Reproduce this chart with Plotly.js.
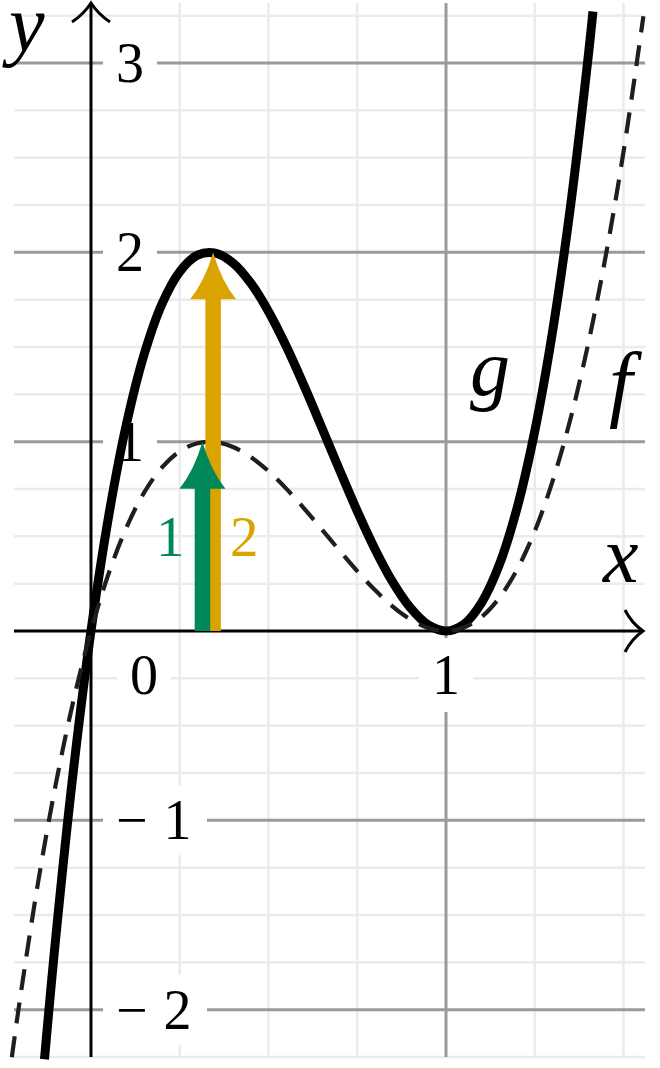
<!DOCTYPE html>
<html><head><meta charset="utf-8">
<script src="https://cdn.plot.ly/plotly-3.0.1.min.js"></script>
<style>html,body{margin:0;padding:0;background:#fff;}#chart{width:660px;height:1068px;}</style>
</head><body><div id="chart"></div>
<script>
// ---- data ----
const fX = [-0.223,-0.2,-0.15,-0.1,-0.05,0,0.05,0.1,0.15,0.2,0.25,0.3,0.35,0.4,0.45,0.5,0.55,0.6,0.65,0.7,0.75,0.8,0.85,0.9,0.95,1.0,1.05,1.1,1.15,1.2,1.25,1.3,1.35,1.4,1.45,1.5,1.556];
const fY = [-2.251,-1.944,-1.339,-0.817,-0.372,0,0.305,0.547,0.732,0.864,0.949,0.992,0.998,0.972,0.919,0.844,0.752,0.648,0.537,0.425,0.316,0.216,0.129,0.061,0.016,0,0.018,0.074,0.175,0.324,0.527,0.790,1.116,1.512,1.982,2.531,3.247];
const gX = [-0.131,-0.1,-0.05,0,0.05,0.1,0.15,0.2,0.25,0.3,0.35,0.4,0.45,0.5,0.55,0.6,0.65,0.7,0.75,0.8,0.85,0.9,0.95,1.0,1.05,1.1,1.15,1.2,1.25,1.3,1.35,1.4,1.414];
const gY = [-2.262,-1.634,-0.744,0,0.609,1.094,1.463,1.728,1.898,1.985,1.996,1.944,1.838,1.688,1.504,1.296,1.075,0.851,0.633,0.432,0.258,0.122,0.032,0,0.035,0.149,0.349,0.648,1.055,1.580,2.233,3.024,3.272];

const arrowX = [0.344, 0.314];     // gold, green
const arrowTop = [2, 1];
const arrowLabels = ['2', '1'];
const arrowLabelY = [0.5, 0.5];

const yTickVals = [-2, -1, 1, 2, 3];
const yTickText = ['\u2212\u2009\u200a2', '\u2212\u2009\u200a1', '1', '2', '3'];
const xTickVals = [0, 1];
const xTickText = ['0', '1'];
const minorX = [0.25, 0.5, 0.75, 1.25, 1.5];
const majorX = [1];
const minorY = [-2.25, -1.75, -1.5, -1.25, -0.75, -0.5, -0.25, 0.25, 0.5, 0.75, 1.25, 1.5, 1.75, 2.25, 2.5, 2.75, 3.25];
const majorY = [-2, -1, 1, 2, 3];

// ---- layout / style ----
const W = 660, H = 1068;
const xRange = [-0.2563, 1.6028], yRange = [-2.3082, 3.3328];
const dx = (xRange[1] - xRange[0]) / W, dy = (yRange[1] - yRange[0]) / H;
const X = px => xRange[0] + px * dx;
const Y = py => yRange[1] - py * dy;
const GOLD = '#dba300', GREEN = '#00885a';
const arrowColors = [GOLD, GREEN];
const gridX0 = X(14), gridX1 = X(645), gridY0 = -2.25, gridYTop = Y(3);
const FONT = 'Liberation Serif, Times New Roman, serif';

const shapes = [];
function line(x0, y0, x1, y1, color, width, layer) {
  shapes.push({type: 'line', xref: 'x', yref: 'y', x0, y0, x1, y1, layer: layer || 'below', line: {color, width}});
}
minorY.forEach(v => line(gridX0, v, gridX1, v, '#ebebeb', 2.5));
minorX.forEach(v => line(v, gridY0, v, gridYTop, '#ebebeb', 2.5));
majorY.forEach(v => line(gridX0, v, gridX1, v, '#9a9a9a', 3));
majorX.forEach(v => line(v, gridY0, v, gridYTop, '#9a9a9a', 3));

function whiteBox(cx, cy, hwPx, hhPx) {
  shapes.push({type: 'rect', xref: 'x', yref: 'y', layer: 'below',
    x0: cx - hwPx * dx, x1: cx + hwPx * dx, y0: cy - hhPx * dy, y1: cy + hhPx * dy,
    fillcolor: '#ffffff', line: {width: 0}});
}
// label boxes
const yLabDx = 23; // px right of y-axis (left edge of label)
yTickVals.forEach((v, i) => {
  const wide = yTickText[i].length > 1;
  whiteBox(X(91 + (wide ? 64 : 39)), v, wide ? 52 : 27, 35);
});
const xLabDx = [53, 0], xLabDy = 44;
xTickVals.forEach((v, i) => whiteBox(v + xLabDx[i] * dx, -xLabDy * dy, 27, 37));

// axes
line(0, gridY0, 0, Y(4), '#000', 3);
line(gridX0, 0, X(642), 0, '#000', 3);
shapes.push({type: 'path', xref: 'x', yref: 'y', layer: 'below', line: {color: '#000', width: 3},
  path: `M${X(72)},${Y(22)} Q${X(84)},${Y(14)} 0,${Y(3)} Q${X(98)},${Y(14)} ${X(110)},${Y(22)}`});
shapes.push({type: 'path', xref: 'x', yref: 'y', layer: 'below', line: {color: '#000', width: 3},
  path: `M${X(625)},${Y(610)} Q${X(631.5)},${Y(623)} ${X(643)},0 Q${X(631.5)},${Y(639)} ${X(625)},${Y(652)}`});

// arrows
const headHW = 23 * dx, headL = 47 * dy, stemW = 15.5;
arrowX.forEach((ax, i) => {
  const top = arrowTop[i], base = top - headL, c = arrowColors[i];
  line(ax, 0, ax, base + 2 * dy, c, stemW, 'above');
  shapes.push({type: 'path', xref: 'x', yref: 'y', layer: 'above', fillcolor: c, line: {width: 0},
    path: `M${ax - headHW},${base} Q${ax - 0.35 * headHW},${base + 0.4 * headL} ${ax},${top} Q${ax + 0.35 * headHW},${base + 0.4 * headL} ${ax + headHW},${base} Z`});
});

// annotations
const ann = [];
function txt(x, y, text, size, color, xanchor) {
  ann.push({x, y, xref: 'x', yref: 'y', text, showarrow: false, xanchor: xanchor || 'center', yanchor: 'middle',
    font: {family: FONT, size, color: color || '#000'}});
}
yTickVals.forEach((v, i) => txt(yLabDx * dx, v, yTickText[i], 56, '#000', 'left'));
xTickVals.forEach((v, i) => txt(v + xLabDx[i] * dx, -xLabDy * dy, xTickText[i], 56));
arrowX.forEach((ax, i) => txt(ax + (i === 0 ? 31 : -31.5) * dx, arrowLabelY[i], arrowLabels[i], 57, arrowColors[i]));
txt(X(23), Y(24), '<i>y</i>', 80);
txt(X(620), Y(555), '<i>x</i>', 80);
txt(X(490), Y(368), '<i>g</i>', 80);
txt(X(626), Y(382), '<i>f</i>', 84);

const traces = [
  {x: gX, y: gY, type: 'scatter', mode: 'lines', line: {color: '#000', width: 9, shape: 'spline', smoothing: 1}, hoverinfo: 'skip'},
  {x: fX, y: fY, type: 'scatter', mode: 'lines', line: {color: '#1e1e1e', width: 4.2, dash: '21px,13px', shape: 'spline', smoothing: 1}, hoverinfo: 'skip'}
];

const layout = {
  width: W, height: H, margin: {l: 0, r: 0, t: 0, b: 0, pad: 0},
  paper_bgcolor: '#fff', plot_bgcolor: '#fff', showlegend: false,
  xaxis: {range: xRange, visible: false, fixedrange: true},
  yaxis: {range: yRange, visible: false, fixedrange: true},
  shapes, annotations: ann
};
Plotly.newPlot('chart', traces, layout, {staticPlot: true, displayModeBar: false});
</script></body></html>
